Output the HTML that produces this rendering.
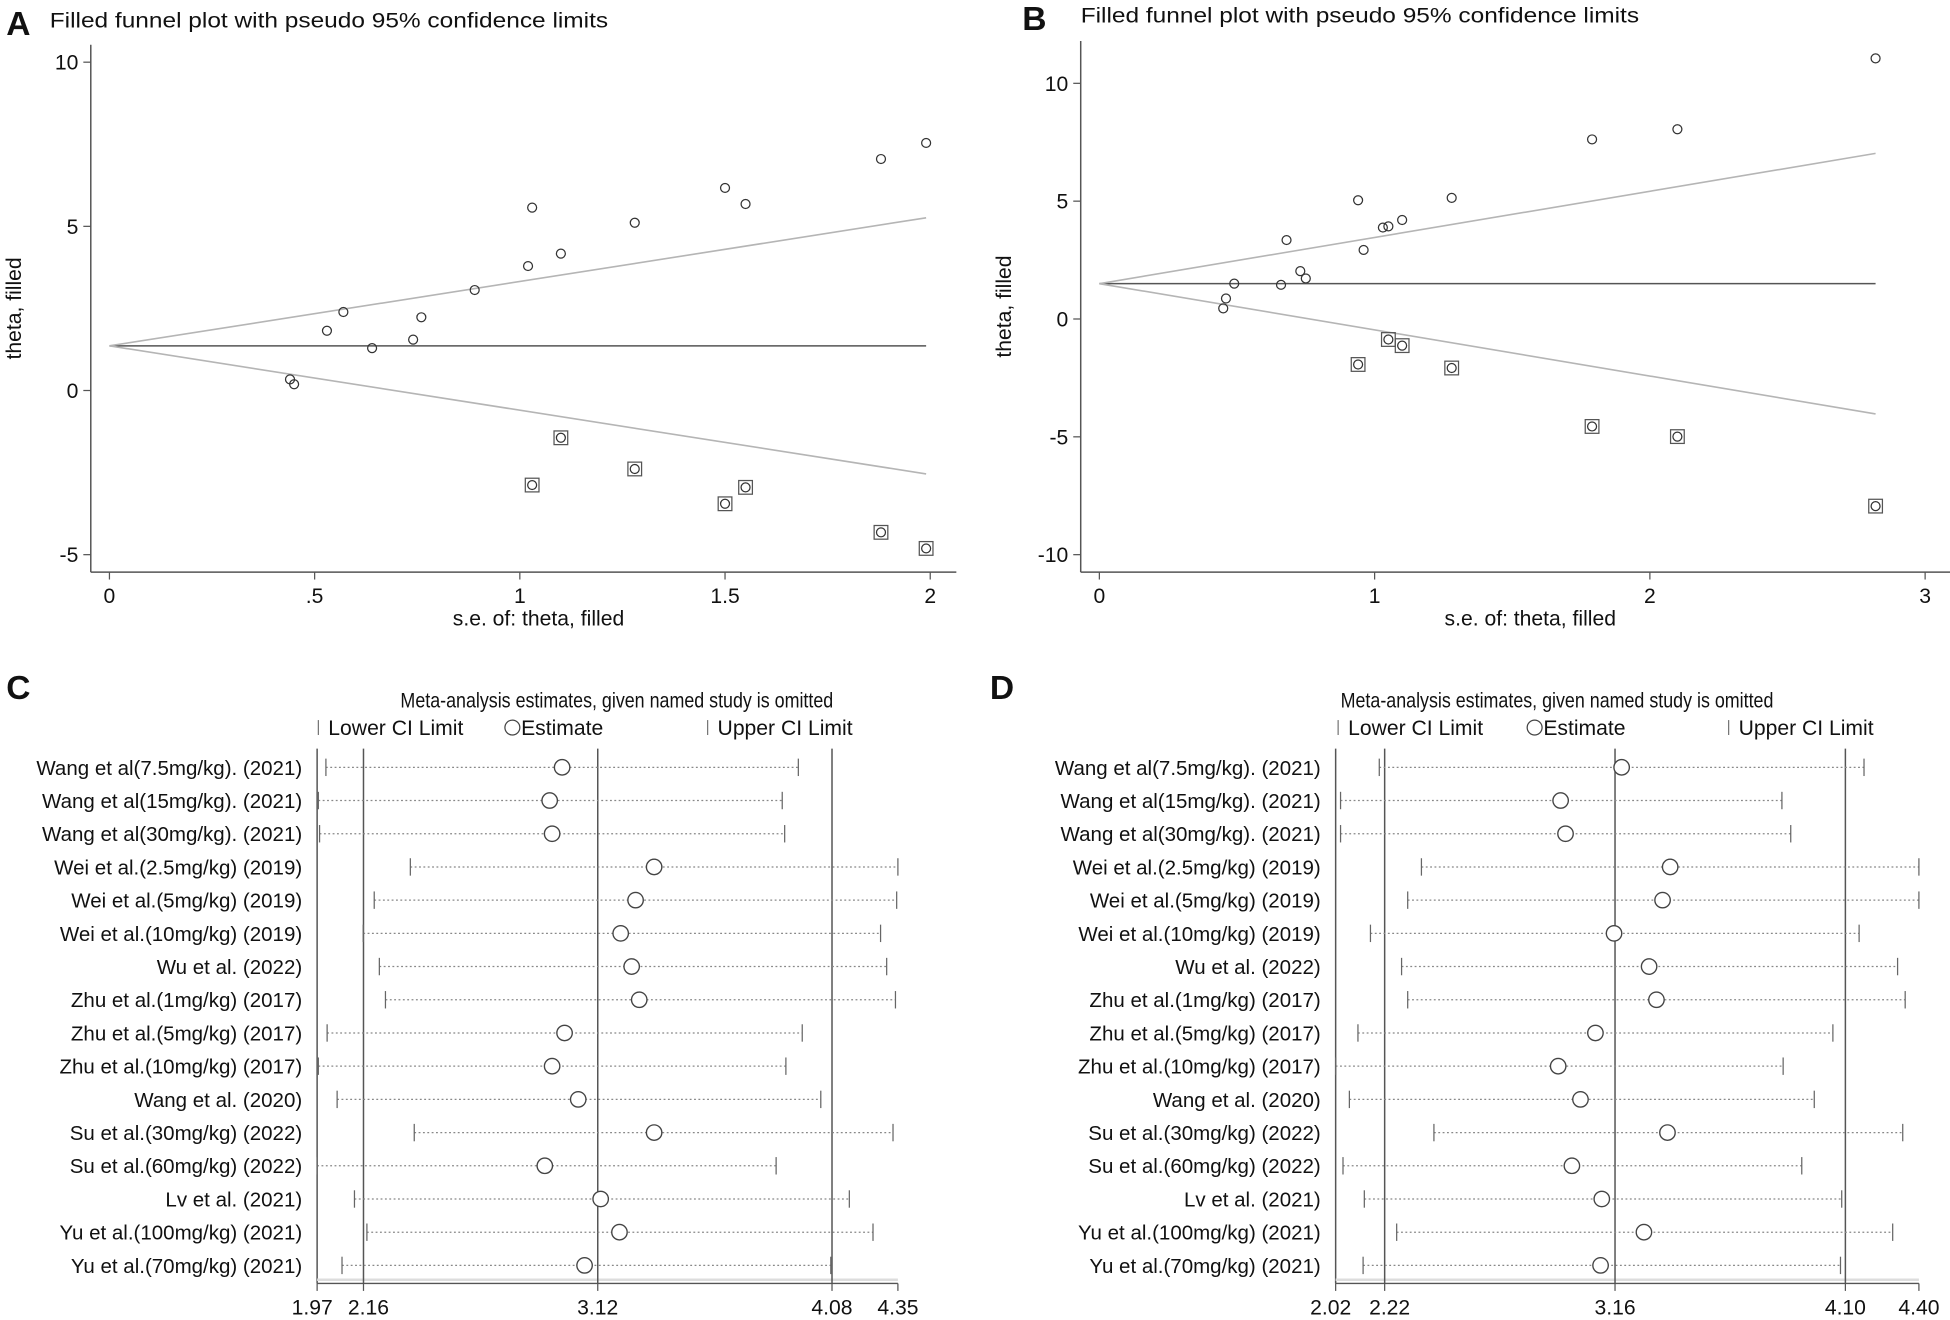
<!DOCTYPE html>
<html><head><meta charset="utf-8"><style>
html,body{margin:0;padding:0;background:#fff}
svg{display:block}
text{font-family:"Liberation Sans",sans-serif;fill:#111}
</style></head><body>
<svg id="fig" width="1950" height="1320" viewBox="0 0 1568 1061.4" preserveAspectRatio="none" xmlns="http://www.w3.org/2000/svg"></svg>
<script>
// Panel A data
const aSe = [0.44,0.45,0.53,0.57,0.64,0.74,0.76,0.89,1.02,1.03,1.10,1.28,1.50,1.55,1.88,1.99];
const aTheta = [0.34,0.19,1.82,2.39,1.29,1.55,2.23,3.06,3.79,5.57,4.17,5.11,6.17,5.68,7.05,7.54];
const aFillSe = [1.03,1.10,1.28,1.50,1.55,1.88,1.99];
const aFillTheta = [-2.88,-1.44,-2.39,-3.45,-2.95,-4.32,-4.81];
const aCenter = 1.36;
const aXTicks = [0,0.5,1,1.5,2];
const aXTickLabels = ["0",".5","1","1.5","2"];
const aYTicks = [10,5,0,-5];
// Panel B data
const bSe = [2.82,1.79,2.10,1.28,0.94,1.10,1.03,1.05,0.68,0.96,0.73,0.75,0.49,0.66,0.46,0.45];
const bTheta = [11.06,7.62,8.05,5.14,5.04,4.20,3.88,3.93,3.35,2.93,2.03,1.72,1.50,1.45,0.87,0.45];
const bFillSe = [0.94,1.05,1.10,1.28,1.79,2.10,2.82];
const bFillTheta = [-1.93,-0.87,-1.13,-2.08,-4.56,-4.99,-7.94];
const bCenter = 1.5;
const bXTicks = [0,1,2,3];
const bXTickLabels = ["0","1","2","3"];
const bYTicks = [10,5,0,-5,-10];
// Panels C/D data
const studies = ["Wang et al(7.5mg/kg). (2021)","Wang et al(15mg/kg). (2021)","Wang et al(30mg/kg). (2021)","Wei et al.(2.5mg/kg) (2019)","Wei et al.(5mg/kg) (2019)","Wei et al.(10mg/kg) (2019)","Wu et al. (2022)","Zhu et al.(1mg/kg) (2017)","Zhu et al.(5mg/kg) (2017)","Zhu et al.(10mg/kg) (2017)","Wang et al. (2020)","Su et al.(30mg/kg) (2022)","Su et al.(60mg/kg) (2022)","Lv et al. (2021)","Yu et al.(100mg/kg) (2021)","Yu et al.(70mg/kg) (2021)"];
const cLower = [2.006,1.975,1.98,2.352,2.204,2.159,2.225,2.25,2.011,1.975,2.052,2.368,1.97,2.123,2.174,2.072];
const cEst = [2.974,2.923,2.933,3.351,3.275,3.214,3.259,3.29,2.984,2.933,3.04,3.351,2.903,3.132,3.209,3.066];
const cUpper = [3.942,3.876,3.886,4.35,4.345,4.279,4.304,4.34,3.958,3.891,4.034,4.33,3.851,4.151,4.248,4.075];
const cTicks = [1.97,2.16,3.12,4.08,4.35];
const cRefLines = [2.16,3.12,4.08];
const dLower = [2.198,2.04,2.04,2.37,2.314,2.162,2.289,2.314,2.111,2.02,2.076,2.421,2.05,2.137,2.269,2.132];
const dEst = [3.187,2.938,2.958,3.385,3.354,3.156,3.299,3.329,3.08,2.928,3.019,3.374,2.984,3.106,3.278,3.101];
const dUpper = [4.176,3.841,3.877,4.40,4.40,4.156,4.313,4.344,4.049,3.846,3.973,4.334,3.922,4.085,4.293,4.08];
const dTicks = [2.02,2.22,3.16,4.10,4.40];
const dTickLabels = ["2.02","2.22","3.16","4.10","4.40"];
const dRefLines = [2.22,3.16,4.10];

const svg = document.getElementById('fig');
const NS = "http://www.w3.org/2000/svg";
function el(tag, attrs, parent){const e=document.createElementNS(NS,tag);for(const k in attrs)e.setAttribute(k,attrs[k]);(parent||svg).appendChild(e);return e;}
function txt(s, attrs, parent){const e=el('text',attrs,parent);e.textContent=s;return e;}

function funnel(cfg){
  const g = el('g',{});
  
  
  const sx = v => cfg.x0 + (v - cfg.xmin) / (cfg.xmax - cfg.xmin) * (cfg.x1 - cfg.x0);
  const sy = v => cfg.y0 + (cfg.ymax - v) / (cfg.ymax - cfg.ymin) * (cfg.y1 - cfg.y0);
  const t = txt(cfg.letter,{x:cfg.lx,y:cfg.ly,'font-size':27,'font-weight':'bold'},g);
  
  
  const ti = txt("Filled funnel plot with pseudo 95% confidence limits",{x:cfg.tx,y:cfg.ty,'font-size':17,textLength:449,lengthAdjust:'spacingAndGlyphs'},g);
  
  
  // axes
  const ya = el('line',{x1:cfg.ax,y1:cfg.atop,x2:cfg.ax,y2:cfg.abot,stroke:'#555','stroke-width':1.2},g);
  
  
  const xa = el('line',{x1:cfg.ax,y1:cfg.abot,x2:cfg.aright,y2:cfg.abot,stroke:'#555','stroke-width':1.2},g);
  
  
  cfg.yTicks.forEach(v=>{
    el('line',{x1:cfg.ax-6,y1:sy(v),x2:cfg.ax,y2:sy(v),stroke:'#555'},g);
    const l = txt(String(v),{x:cfg.ax-10,y:sy(v)+6,'font-size':17,'text-anchor':'end'},g);
    
    
  });
  cfg.xTicks.forEach((v,i)=>{
    el('line',{x1:sx(v),y1:cfg.abot,x2:sx(v),y2:cfg.abot+6,stroke:'#555'},g);
    const l = txt(cfg.xLabels[i],{x:sx(v),y:cfg.abot+25,'font-size':17,'text-anchor':'middle'},g);
    
    
  });
  const yt = txt("theta, filled",{x:0,y:0,'font-size':17,'text-anchor':'middle',transform:`translate(${cfg.ax-56},${(cfg.atop+cfg.abot)/2}) rotate(-90)`},g);
  
  
  const xt = txt("s.e. of: theta, filled",{x:(cfg.ax+cfg.aright)/2+12,y:cfg.abot+43,'font-size':17,'text-anchor':'middle'},g);
  
  
  // funnel lines
  const all = cfg.se.concat(cfg.fse);
  const mx = Math.max(...all);
  const c = el('line',{x1:sx(0),y1:sy(cfg.center),x2:sx(mx),y2:sy(cfg.center),stroke:'#555','stroke-width':1.2},g);
  
  
  [1,-1].forEach(s=>{
    const l = el('line',{x1:sx(0),y1:sy(cfg.center),x2:sx(mx),y2:sy(cfg.center+s*1.96*mx),stroke:'#b5b5b5','stroke-width':1.3},g);
    
    
  });
  cfg.se.forEach((v,i)=>{
    const p = el('circle',{cx:sx(v),cy:sy(cfg.theta[i]),r:3.6,fill:'none',stroke:'#333','stroke-width':1},g);
    
    
  });
  cfg.fse.forEach((v,i)=>{
    const x=sx(v), y=sy(cfg.ftheta[i]);
    const r = el('rect',{x:x-5.5,y:y-5.5,width:11,height:11,fill:'none',stroke:'#555','stroke-width':1},g);
    
    
    const p = el('circle',{cx:x,cy:y,r:3.6,fill:'none',stroke:'#333','stroke-width':1},g);
    
    
  });
}

funnel({name:'funnel-plot-a',letter:'A',lx:5,ly:28,tx:40,ty:22,x0:88,x1:748,xmin:0,xmax:2,y0:50,y1:446,ymin:-5,ymax:10,
  ax:73,atop:36,abot:460,aright:769,yTicks:aYTicks,xTicks:aXTicks,xLabels:aXTickLabels,
  se:aSe,theta:aTheta,fse:aFillSe,ftheta:aFillTheta,center:aCenter});
funnel({name:'funnel-plot-b',letter:'B',lx:822,ly:24,tx:869,ty:18,x0:884,x1:1548,xmin:0,xmax:3,y0:67,y1:446,ymin:-10,ymax:10,
  ax:869,atop:33,abot:460,aright:1568,yTicks:bYTicks,xTicks:bXTicks,xLabels:bXTickLabels,
  se:bSe,theta:bTheta,fse:bFillSe,ftheta:bFillTheta,center:bCenter});

function forest(cfg){
  const g = el('g',{});
  
  
  const sx = v => cfg.x0 + (v - cfg.xmin)/(cfg.xmax - cfg.xmin)*(cfg.x1 - cfg.x0);
  const rowY = i => 617 + i*26.7;
  const t = txt(cfg.letter,{x:cfg.lx,y:562,'font-size':27,'font-weight':'bold'},g);
  
  
  const ti = txt("Meta-analysis estimates, given named study is omitted",{x:cfg.tx,y:569,'font-size':17,textLength:348,lengthAdjust:'spacingAndGlyphs'},g);
  
  
  const lg = el('g',{},g);
  
  
  el('line',{x1:cfg.lg1,y1:579,x2:cfg.lg1,y2:591,stroke:'#777'},lg);
  const l1 = txt("Lower CI Limit",{x:cfg.lg1+8,y:591,'font-size':17},lg);
  
  
  el('circle',{cx:cfg.lg2+6,cy:585,r:6,fill:'none',stroke:'#444'},lg);
  const l2 = txt("Estimate",{x:cfg.lg2+13,y:591,'font-size':17},lg);
  
  
  el('line',{x1:cfg.lg3,y1:579,x2:cfg.lg3,y2:591,stroke:'#777'},lg);
  const l3 = txt("Upper CI Limit",{x:cfg.lg3+8,y:591,'font-size':17},lg);
  
  
  // axes
  const la = el('line',{x1:cfg.x0,y1:602,x2:cfg.x0,y2:1032,stroke:'#555','stroke-width':1.2},g);
  
  
  el('line',{x1:cfg.x0,y1:1029,x2:cfg.x1,y2:1029,stroke:'#ddd','stroke-width':2},g);
  const ba = el('line',{x1:cfg.x0,y1:1032,x2:cfg.x1,y2:1032,stroke:'#555','stroke-width':1.2},g);
  
  
  cfg.refs.forEach(v=>{
    const r = el('line',{x1:sx(v),y1:602,x2:sx(v),y2:1032,stroke:'#555','stroke-width':1.2},g);
    
    
  });
  cfg.ticks.forEach((v,i)=>{
    el('line',{x1:sx(v),y1:1032,x2:sx(v),y2:1038,stroke:'#555'},g);
    const off = i===0 ? -4 : (i===1 ? 4 : 0);
    const l = txt(cfg.tickLabels[i],{x:sx(v)+off,y:1057,'font-size':17,'text-anchor':'middle'},g);
    
    
  });
  studies.forEach((s,i)=>{
    const y = rowY(i);
    const lab = txt(s,{x:cfg.x0-12,y:y+6,'font-size':16.5,'text-anchor':'end'},g);
    
    
    const d = el('line',{x1:sx(cfg.lo[i]),y1:y,x2:sx(cfg.up[i]),y2:y,stroke:'#888','stroke-width':1,'stroke-dasharray':'1.5,2'},g);
    
    
    const c1 = el('line',{x1:sx(cfg.lo[i]),y1:y-7,x2:sx(cfg.lo[i]),y2:y+7,stroke:'#666'},g);
    
    
    const c2 = el('line',{x1:sx(cfg.up[i]),y1:y-7,x2:sx(cfg.up[i]),y2:y+7,stroke:'#666'},g);
    
    
    const e = el('circle',{cx:sx(cfg.est[i]),cy:y,r:6.2,fill:'#fff',stroke:'#444','stroke-width':1.1},g);
    
    
  });
}
forest({name:'sensitivity-plot-c',letter:'C',lx:5,tx:322,lg1:256,lg2:406,lg3:569,x0:255,x1:722,xmin:1.97,xmax:4.35,
  lo:cLower,est:cEst,up:cUpper,ticks:cTicks,tickLabels:cTicks.map(v=>v.toFixed(2)),refs:cRefLines});
forest({name:'sensitivity-plot-d',letter:'D',lx:796,tx:1078,lg1:1076,lg2:1228,lg3:1390,x0:1074,x1:1543,xmin:2.02,xmax:4.40,
  lo:dLower,est:dEst,up:dUpper,ticks:dTicks,tickLabels:dTickLabels,refs:dRefLines});
</script>
</body></html>
